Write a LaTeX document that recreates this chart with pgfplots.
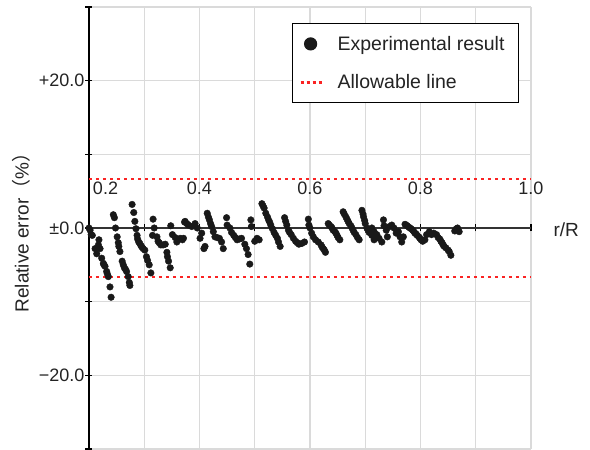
\documentclass[border=0pt]{standalone}
\usepackage{pgfplots}
\pgfplotsset{compat=1.18}
\usepackage{fontspec}
\setmainfont{Liberation Sans}
\newfontfamily\cjk{Noto Sans CJK JP}
\definecolor{txt}{RGB}{35,35,35}
\definecolor{gridc}{RGB}{218,218,218}
\definecolor{allow}{RGB}{250,35,35}
\newcommand{\ft}{\fontsize{18}{22}\selectfont}
\newcommand{\fl}{\fontsize{19.5}{23}\selectfont}
\newcommand{\fa}{\fontsize{19}{23}\selectfont}
\begin{document}
\begin{tikzpicture}
\useasboundingbox (-89pt,-1pt) rectangle (501pt,449pt);
\begin{axis}[
  at={(0pt,0pt)}, anchor=south west,
  scale only axis, width=442pt, height=442pt,
  xmin=0.2, xmax=1.0, ymin=-30, ymax=30,
  axis x line=middle, axis y line=left,
  hide obscured x ticks=false, hide obscured y ticks=false,
  axis line style={-},
  x axis line style={line width=1.2pt, draw=black!80},
  y axis line style={line width=1.2pt, draw=black},
  xtick={0.2,0.3,0.4,0.5,0.6,0.7,0.8,0.9,1.0},
  xticklabels={{\makebox[0pt][l]{\hspace{4pt}0.2}},,0.4,,0.6,,0.8,,1.0},
  ytick={-30,-20,-10,0,10,20,30},
  yticklabels={,{−20.0},,{±0.0},,{+20.0},},
  grid=major,
  major grid style={line width=1.3pt, draw=gridc},
  major tick length=7pt, tick align=center,
  tick style={line width=1.1pt, draw=black},
  xticklabel style={font=\ft, text=txt, anchor=base, yshift=37pt},
  yticklabel style={font=\ft, text=txt, anchor=east, inner sep=1pt},
  xlabel={r/R},
  every axis x label/.style={at={(rel axis cs:1,0.5)}, anchor=west, xshift=19pt, yshift=-2pt, font=\fa, text=txt},
  ylabel={Relative error{\cjk（}\%{\cjk）}},
  every axis y label/.style={at={(rel axis cs:-0.153,0.5)}, rotate=90, anchor=center, font=\fa, text=txt},
  legend style={at={(0.4593,0.9638)}, anchor=north west, draw=black, line width=1.2pt,
    fill=white, inner xsep=6pt, inner ysep=10.5pt, row sep=19pt, column sep=7pt,
    font=\fl, text=txt, nodes={inner sep=2pt}},
  legend cell align=left,
]
\addplot[only marks, mark=*, mark size=3.3pt, color=black!90,
  legend image code/.code={\fill[black!90] (12pt,0pt) circle (6pt); \path[draw=none,fill=none] (0pt,-6pt) rectangle (30pt,6pt);}]
coordinates {
(0.200,0.0) (0.202,-0.3) (0.204,-0.9) (0.206,-1.0) (0.218,-1.6) (0.217,-2.3) (0.211,-2.8) (0.214,-3.5) (0.220,-2.8) (0.223,-4.1) (0.226,-4.8) (0.227,-5.0) (0.229,-5.2) (0.232,-5.9) (0.233,-6.2) (0.235,-6.6) (0.238,-8.0) (0.240,-9.4)
(0.244,1.8) (0.246,1.4) (0.248,0.0) (0.251,-1.2) (0.253,-2.0) (0.254,-2.5) (0.256,-3.2) (0.260,-4.5) (0.262,-5.0) (0.264,-5.4) (0.266,-5.6) (0.268,-5.9) (0.271,-6.6) (0.273,-7.4) (0.274,-7.8)
(0.278,3.2) (0.281,2.1) (0.283,0.9) (0.285,-0.1) (0.287,-1.0) (0.288,-1.5) (0.290,-1.9) (0.292,-2.1) (0.294,-2.4) (0.296,-2.6) (0.298,-2.8) (0.301,-3.0) (0.304,-3.9) (0.306,-4.4) (0.309,-5.0) (0.312,-6.1)
(0.316,1.2) (0.318,0.0) (0.315,-1.0) (0.323,-1.2) (0.325,-1.8) (0.327,-2.0) (0.330,-2.3) (0.334,-2.3) (0.338,-2.2) (0.341,-3.3) (0.342,-3.9) (0.344,-4.5) (0.347,-5.4)
(0.348,0.3) (0.351,-0.9) (0.356,-1.3) (0.359,-1.9) (0.365,-1.4) (0.369,-1.6) (0.371,-1.4) (0.373,0.8) (0.374,0.9) (0.377,0.6) (0.380,0.4) (0.386,0.2) (0.392,0.6) (0.396,0.0) (0.401,-1.4) (0.404,-0.7) (0.408,-2.8) (0.410,-2.5)
(0.414,2.0) (0.416,1.5) (0.418,1.1) (0.420,0.6) (0.422,0.2) (0.425,-0.5) (0.428,-1.2) (0.432,-1.3) (0.436,-1.4) (0.440,-1.9) (0.443,-2.8)
(0.449,1.4) (0.450,0.4) (0.455,0.0) (0.458,-0.6) (0.462,-1.0) (0.465,-1.3) (0.468,-1.6) (0.472,-1.5) (0.476,-1.4) (0.482,-2.2) (0.485,-2.8) (0.488,-3.6) (0.491,-4.9)
(0.493,1.1) (0.494,0.2) (0.500,-1.8) (0.504,-1.4) (0.508,-1.6)
(0.513,3.3) (0.515,3.0) (0.517,2.7) (0.520,2.0) (0.523,1.5) (0.525,1.1) (0.527,0.8) (0.529,0.4) (0.532,-0.1) (0.535,-0.6) (0.538,-1.0) (0.541,-1.4) (0.543,-1.9) (0.546,-2.5)
(0.554,1.4) (0.556,0.9) (0.558,0.4) (0.561,-0.3) (0.563,-0.6) (0.566,-0.9) (0.570,-1.4) (0.574,-1.8) (0.577,-2.0) (0.580,-2.2) (0.585,-2.1) (0.590,-1.9)
(0.597,1.2) (0.598,0.4) (0.600,0.0) (0.603,-0.7) (0.606,-1.2) (0.610,-1.6) (0.615,-1.9) (0.620,-2.3) (0.622,-2.6) (0.624,-2.8) (0.626,-3.0) (0.628,-3.3)
(0.633,0.6) (0.635,0.4) (0.638,0.2) (0.640,0.0) (0.642,-0.3) (0.645,-0.5) (0.647,-0.7) (0.649,-1.0) (0.651,-1.3) (0.654,-1.6)
(0.660,2.2) (0.662,1.9) (0.665,1.5) (0.667,1.2) (0.669,0.9) (0.671,0.6) (0.674,0.3) (0.676,0.0) (0.678,-0.3) (0.680,-0.6) (0.683,-0.9) (0.686,-1.3) (0.689,-1.6)
(0.694,2.4) (0.696,1.9) (0.697,1.5) (0.699,1.0) (0.700,0.6) (0.703,0.0) (0.705,-0.3) (0.707,-0.6) (0.712,-1.0) (0.716,-1.6) (0.712,0.0) (0.716,-0.5) (0.721,-0.9) (0.725,-1.4) (0.730,-1.9)
(0.733,1.1) (0.734,0.3) (0.738,-0.3) (0.740,-1.2) (0.744,0.2) (0.748,0.4) (0.752,0.0) (0.756,-0.7) (0.760,-0.5) (0.763,-1.2) (0.766,-1.9) (0.769,-1.2)
(0.772,0.5) (0.774,0.4) (0.776,0.3) (0.779,0.1) (0.781,0.0) (0.783,-0.1) (0.786,-0.3) (0.788,-0.5) (0.790,-0.7) (0.792,-0.8) (0.794,-1.0) (0.797,-1.2) (0.799,-1.4) (0.801,-1.6) (0.804,-1.8) (0.808,-1.6) (0.811,-0.9) (0.816,-0.5) (0.820,-0.9) (0.824,-0.7) (0.829,-0.9) (0.832,-1.3) (0.835,-1.5) (0.837,-1.8) (0.839,-2.0) (0.841,-2.3) (0.843,-2.5) (0.846,-2.7) (0.850,-3.0) (0.852,-3.2) (0.855,-3.7)
(0.862,-0.4) (0.865,-0.1) (0.867,0.0) (0.870,-0.5)
};
\addlegendentry{Experimental result\rule{6pt}{0pt}}
\addplot[allow, line width=2.8pt, dash pattern=on 3pt off 4pt,
  legend image code/.code={\draw[allow, line width=2.8pt, dash pattern=on 3pt off 3pt] (2pt,0pt) -- (24pt,0pt); \path[draw=none,fill=none] (0pt,-6pt) rectangle (30pt,6pt);}]
coordinates {(0.2,6.65) (1.0,6.65)};
\addlegendentry{Allowable line}
\addplot[allow, line width=2.8pt, dash pattern=on 3pt off 4pt, forget plot]
coordinates {(0.2,-6.65) (1.0,-6.65)};
\end{axis}
\end{tikzpicture}
\end{document}
